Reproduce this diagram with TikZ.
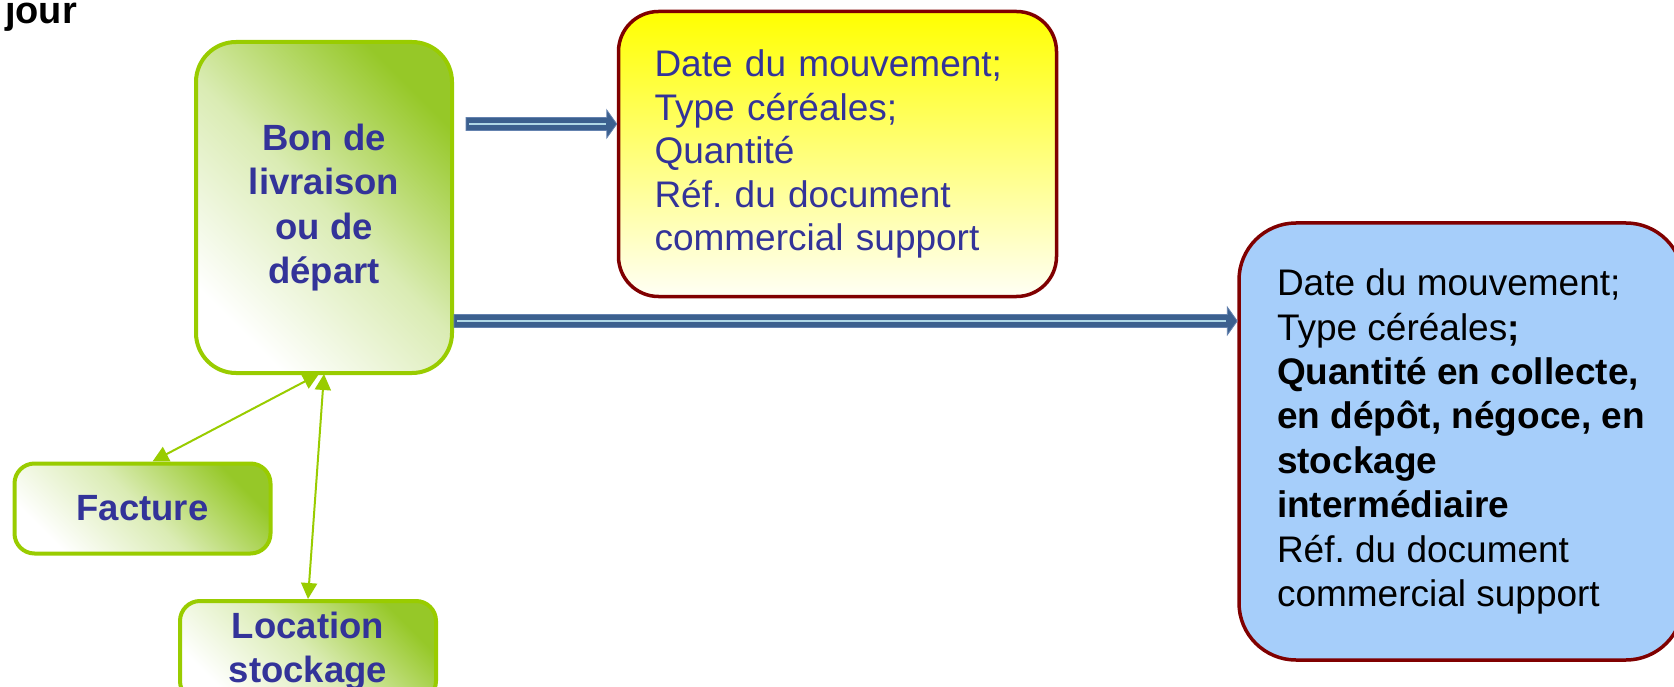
\documentclass[tikz,border=0pt]{standalone}
\usepackage{fontspec}
\setmainfont{Liberation Sans}
\usetikzlibrary{arrows.meta,calc}
\definecolor{txtblue}{RGB}{51,51,153}
\definecolor{lgreen}{RGB}{153,204,0}
\definecolor{boxgreen}{RGB}{150,200,40}
\definecolor{dred}{RGB}{128,0,0}
\definecolor{boxblue}{RGB}{166,206,250}
\definecolor{arrblue}{RGB}{60,96,143}
\definecolor{arredge}{RGB}{100,130,175}
\definecolor{arrlight}{RGB}{175,215,230}
\definecolor{yelbot}{RGB}{255,255,245}
\newcommand{\fatarrow}[2]{%
  \filldraw[fill=arrblue, draw=arredge, line width=0.8pt]
    ($(#1)+(0,-6.5)$) -- ($(#2)+(-10,-6.5)$) -- ($(#2)+(-10,-14)$) -- (#2)
    -- ($(#2)+(-10,14)$) -- ($(#2)+(-10,6.5)$) -- ($(#1)+(0,6.5)$) -- cycle;
  \draw[arrlight, line width=2.8pt] ($(#1)+(3,0)$) -- ($(#2)+(-11,0)$);}
\begin{document}
\frenchspacing
\begin{tikzpicture}[x=1pt,y=-1pt,
  greenbox/.style={draw=lgreen, line width=4pt, top color=boxgreen, bottom color=white,
    middle color=boxgreen!35!white, shading angle=-45, text=txtblue,
    font=\fontsize{36.5}{44.3}\selectfont\bfseries, align=center, inner sep=0pt},
  infobox/.style={draw=dred, line width=3.5pt, font=\fontsize{37}{44.4}\selectfont,
    align=left, inner ysep=0pt},
  garrow/.style={lgreen, line width=2pt, {Triangle[length=16pt,width=16pt]}-{Triangle[length=16pt,width=16pt]}}
]
\useasboundingbox (0,0) rectangle (1674,687);
\clip (0,0) rectangle (1674,687);

\node[anchor=base west, inner sep=0pt, font=\fontsize{38}{40}\selectfont\bfseries] (jour) at (5,24) {jour};

\node[greenbox, rounded corners=40pt, minimum width=256pt, minimum height=331pt] (bon) at (324,207.5)
  {Bon de\\livraison\\ou de\\départ};

\node[greenbox, rounded corners=20pt, minimum width=256pt, minimum height=90pt] (fact) at (142.5,508.5)
  {Facture};

\node[greenbox, rounded corners=20pt, minimum width=256pt, minimum height=100pt] (loc) at (308,651)
  {Location\\stockage};

\node[infobox, rounded corners=40pt, top color=yellow, bottom color=yelbot, text=txtblue,
  font=\fontsize{37}{43.5}\selectfont,
  minimum width=438pt, minimum height=285pt, text width=366pt, inner xsep=36pt] (yel) at (837.5,154)
  {Date du mouvement;\\Type céréales;\\Quantité\\Réf. du document\\commercial support};

\node[infobox, rounded corners=57pt, fill=boxblue, text=black,
  minimum width=444pt, minimum height=437pt, inner xsep=0pt] (blu) at (1461,441.5)
  {Date du mouvement;\\Type céréales\textbf{;}\\\textbf{Quantité en collecte,}\\\textbf{en dépôt, négoce, en}\\\textbf{stockage}\\\textbf{intermédiaire}\\Réf. du document\\commercial support};

\coordinate (s1) at (466,124);
\coordinate (e1) at (yel.west |- s1);
\fatarrow{s1}{e1}
\coordinate (s2) at (bon.east |- 0,321);
\coordinate (e2) at (blu.west |- s2);
\fatarrow{s2}{e2}

\draw[garrow] ([xshift=-5pt,yshift=1pt]bon.south) -- ([xshift=10pt]fact.north);
\draw[garrow] ([yshift=1pt]bon.south) -- (loc.north);
\end{tikzpicture}
\end{document}
